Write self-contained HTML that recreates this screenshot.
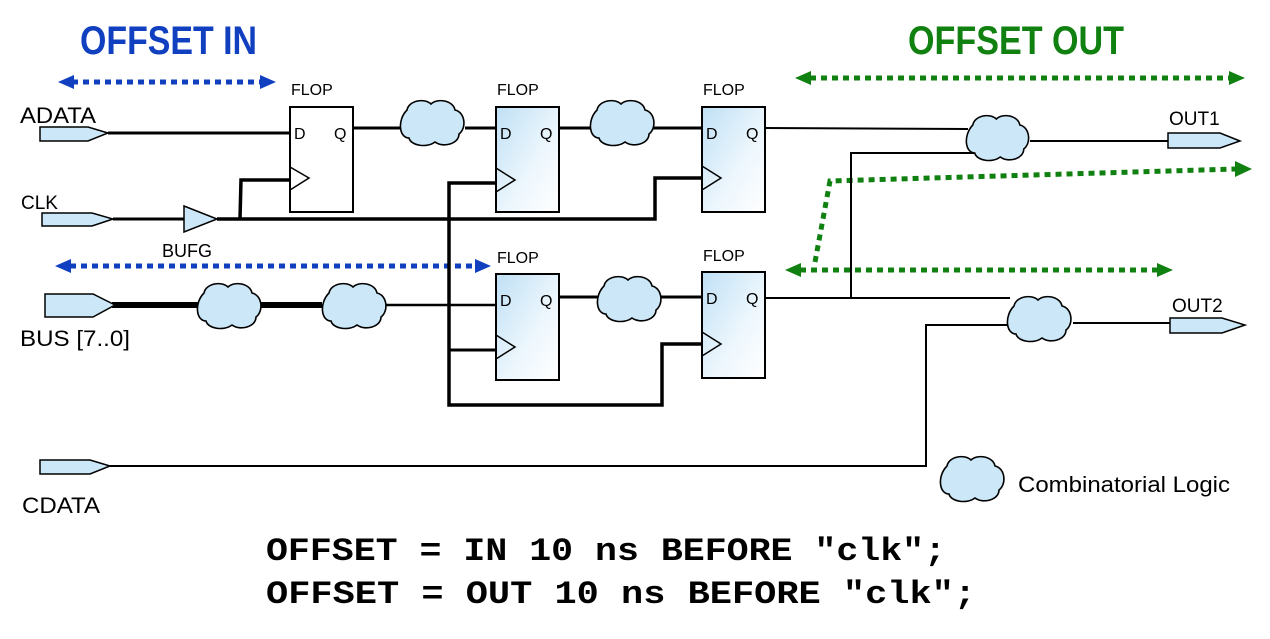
<!DOCTYPE html>
<html><head><meta charset="utf-8"><style>
html,body{margin:0;padding:0;background:#fff;width:1270px;height:639px;overflow:hidden}
svg{display:block}
text{font-family:"Liberation Sans",sans-serif}
</style></head><body>
<svg width="1270" height="639" viewBox="0 0 1270 639" xmlns="http://www.w3.org/2000/svg">
<defs>
<linearGradient id="fg" x1="0" y1="0" x2="1" y2="1">
<stop offset="0" stop-color="#bfe0f5"/><stop offset="0.6" stop-color="#eef7fd"/><stop offset="1" stop-color="#ffffff"/>
</linearGradient>
<g id="cloud"><path d="M10,12 C12,2 28,0 34,6 C40,0 56,2 58,12 C68,14 70,30 62,36 C62,46 46,50 38,44 C30,50 14,48 12,40 C2,40 0,22 10,12 Z" fill="#cce8f8" stroke="#000" stroke-width="1.6"/></g>
</defs>

<!-- titles -->
<text x="80" y="54" font-size="40" font-weight="bold" fill="#1040c0" textLength="177" lengthAdjust="spacingAndGlyphs">OFFSET IN</text>
<text x="908" y="54" font-size="40" font-weight="bold" fill="#108010" textLength="216" lengthAdjust="spacingAndGlyphs">OFFSET OUT</text>

<!-- blue arrows -->
<g stroke="#1040c0" stroke-width="5" stroke-dasharray="6,5">
<line x1="72" y1="82" x2="262" y2="82"/>
<line x1="70" y1="266" x2="476" y2="266"/>
</g>
<g fill="#1040c0">
<polygon points="58,82 74,75 74,89"/><polygon points="276,82 260,75 260,89"/>
<polygon points="55,266 71,259 71,273"/><polygon points="491,266 475,259 475,273"/>
</g>

<!-- green arrows -->
<g stroke="#108010" stroke-width="5" stroke-dasharray="6,5" fill="none">
<line x1="810" y1="78" x2="1230" y2="78"/>
<polyline points="815,262 830,181 1236,169"/>
<line x1="800" y1="270" x2="1158" y2="270"/>
</g>
<g fill="#108010">
<polygon points="795,78 811,71 811,85"/><polygon points="1245,78 1229,71 1229,85"/>
<polygon points="1252,169 1235,161 1235,177"/>
<polygon points="785,270 801,263 801,277"/><polygon points="1173,270 1157,263 1157,277"/>
</g>

<!-- wires -->
<g stroke="#000" fill="none" stroke-linejoin="miter">
<line x1="108" y1="133" x2="290" y2="133" stroke-width="3"/>
<line x1="113" y1="219" x2="184" y2="219" stroke-width="3"/>
<polyline points="217,219 655,219 655,178 702,178" stroke-width="3.5"/>
<polyline points="240,219 241,180 290,180" stroke-width="3.5"/>
<line x1="353" y1="128" x2="400" y2="128" stroke-width="3"/>
<line x1="465" y1="128" x2="496" y2="128" stroke-width="3"/>
<line x1="559" y1="128" x2="590" y2="128" stroke-width="3"/>
<line x1="653" y1="128" x2="702" y2="128" stroke-width="3"/>
<line x1="765" y1="128" x2="968" y2="129" stroke-width="2"/>
<line x1="1030" y1="141" x2="1170" y2="141" stroke-width="2"/>
<polyline points="975,153 851,153 851,298" stroke-width="2"/>
<polyline points="496,183 449,183 449,405 662,405 662,344 702,344" stroke-width="3.5"/>
<line x1="449" y1="350" x2="496" y2="350" stroke-width="3"/>
<line x1="112" y1="305" x2="198" y2="305" stroke-width="6"/>
<line x1="260" y1="305" x2="322" y2="305" stroke-width="6"/>
<line x1="386" y1="305" x2="496" y2="305" stroke-width="2.5"/>
<line x1="559" y1="297" x2="598" y2="297" stroke-width="3"/>
<line x1="660" y1="297" x2="702" y2="297" stroke-width="3"/>
<line x1="765" y1="298" x2="1010" y2="298" stroke-width="2"/>
<line x1="1073" y1="323" x2="1170" y2="323" stroke-width="2"/>
<polyline points="110,466 926,466 926,325 1008,325" stroke-width="2"/>
</g>

<!-- flops -->
<g stroke="#000" stroke-width="2">
<rect x="290" y="107" width="63" height="105" fill="#fff"/>
<rect x="496" y="107" width="63" height="105" fill="url(#fg)"/>
<rect x="702" y="107" width="63" height="105" fill="url(#fg)"/>
<rect x="496" y="274" width="63" height="106" fill="url(#fg)"/>
<rect x="702" y="272" width="63" height="106" fill="url(#fg)"/>
<g fill="none" stroke-width="1.5">
<polyline points="290,167 309,178 290,190"/>
<polyline points="496,168 515,180 496,192"/>
<polyline points="702,166 721,178 702,190"/>
<polyline points="496,335 515,347 496,359"/>
<polyline points="702,332 721,344 702,356"/>
</g>
</g>
<g font-size="16" fill="#000">
<text x="294" y="139">D</text><text x="334" y="139">Q</text>
<text x="500" y="139">D</text><text x="540" y="139">Q</text>
<text x="706" y="139">D</text><text x="746" y="139">Q</text>
<text x="500" y="306">D</text><text x="540" y="306">Q</text>
<text x="706" y="304">D</text><text x="746" y="304">Q</text>
<text x="291" y="95">FLOP</text><text x="497" y="95">FLOP</text><text x="703" y="95">FLOP</text>
<text x="497" y="263">FLOP</text><text x="703" y="261">FLOP</text>
</g>

<!-- BUFG -->
<polygon points="184,206 217,219 184,232" fill="#cce8f8" stroke="#000" stroke-width="1.5"/>

<!-- ports -->
<g fill="#cce8f8" stroke="#000" stroke-width="1.5">
<polygon points="40,127 88,127 108,133 88,141 40,141"/>
<polygon points="42,213 92,213 113,219 92,226 42,226"/>
<polygon points="45,294 93,294 115,305 93,317 45,317"/>
<polygon points="40,460 90,460 110,466 90,474 40,474"/>
<polygon points="1168,133 1220,133 1240,141 1220,148 1168,148"/>
<polygon points="1170,318 1222,318 1245,325 1222,333 1170,333"/>
</g>

<!-- clouds -->
<use href="#cloud" transform="translate(397,98)"/>
<use href="#cloud" transform="translate(587,98)"/>
<use href="#cloud" transform="translate(963,113) scale(0.98,1)"/>
<use href="#cloud" transform="translate(194,281)"/>
<use href="#cloud" transform="translate(319,281)"/>
<use href="#cloud" transform="translate(594,274)"/>
<use href="#cloud" transform="translate(1004,294)"/>
<use href="#cloud" transform="translate(937,454)"/>

<!-- labels -->
<g font-size="22" fill="#000">
<text x="20" y="123" textLength="76" lengthAdjust="spacingAndGlyphs">ADATA</text>
<text x="21" y="209" font-size="19">CLK</text>
<text x="162" y="257" font-size="18">BUFG</text>
<text x="20" y="346" textLength="110" lengthAdjust="spacingAndGlyphs">BUS [7..0]</text>
<text x="22" y="513" textLength="78" lengthAdjust="spacingAndGlyphs">CDATA</text>
<text x="1169" y="125" font-size="19">OUT1</text>
<text x="1172" y="312" font-size="19">OUT2</text>
<text x="1018" y="492" textLength="212" lengthAdjust="spacingAndGlyphs">Combinatorial Logic</text>
</g>

<g font-family="'Liberation Mono',monospace" font-weight="bold" font-size="32" fill="#000">
<text x="266" y="560" textLength="680" lengthAdjust="spacingAndGlyphs" style="font-family:'Liberation Mono',monospace">OFFSET = IN 10 ns BEFORE "clk";</text>
<text x="266" y="603" textLength="710" lengthAdjust="spacingAndGlyphs" style="font-family:'Liberation Mono',monospace">OFFSET = OUT 10 ns BEFORE "clk";</text>
</g>
</svg>
</body></html>
